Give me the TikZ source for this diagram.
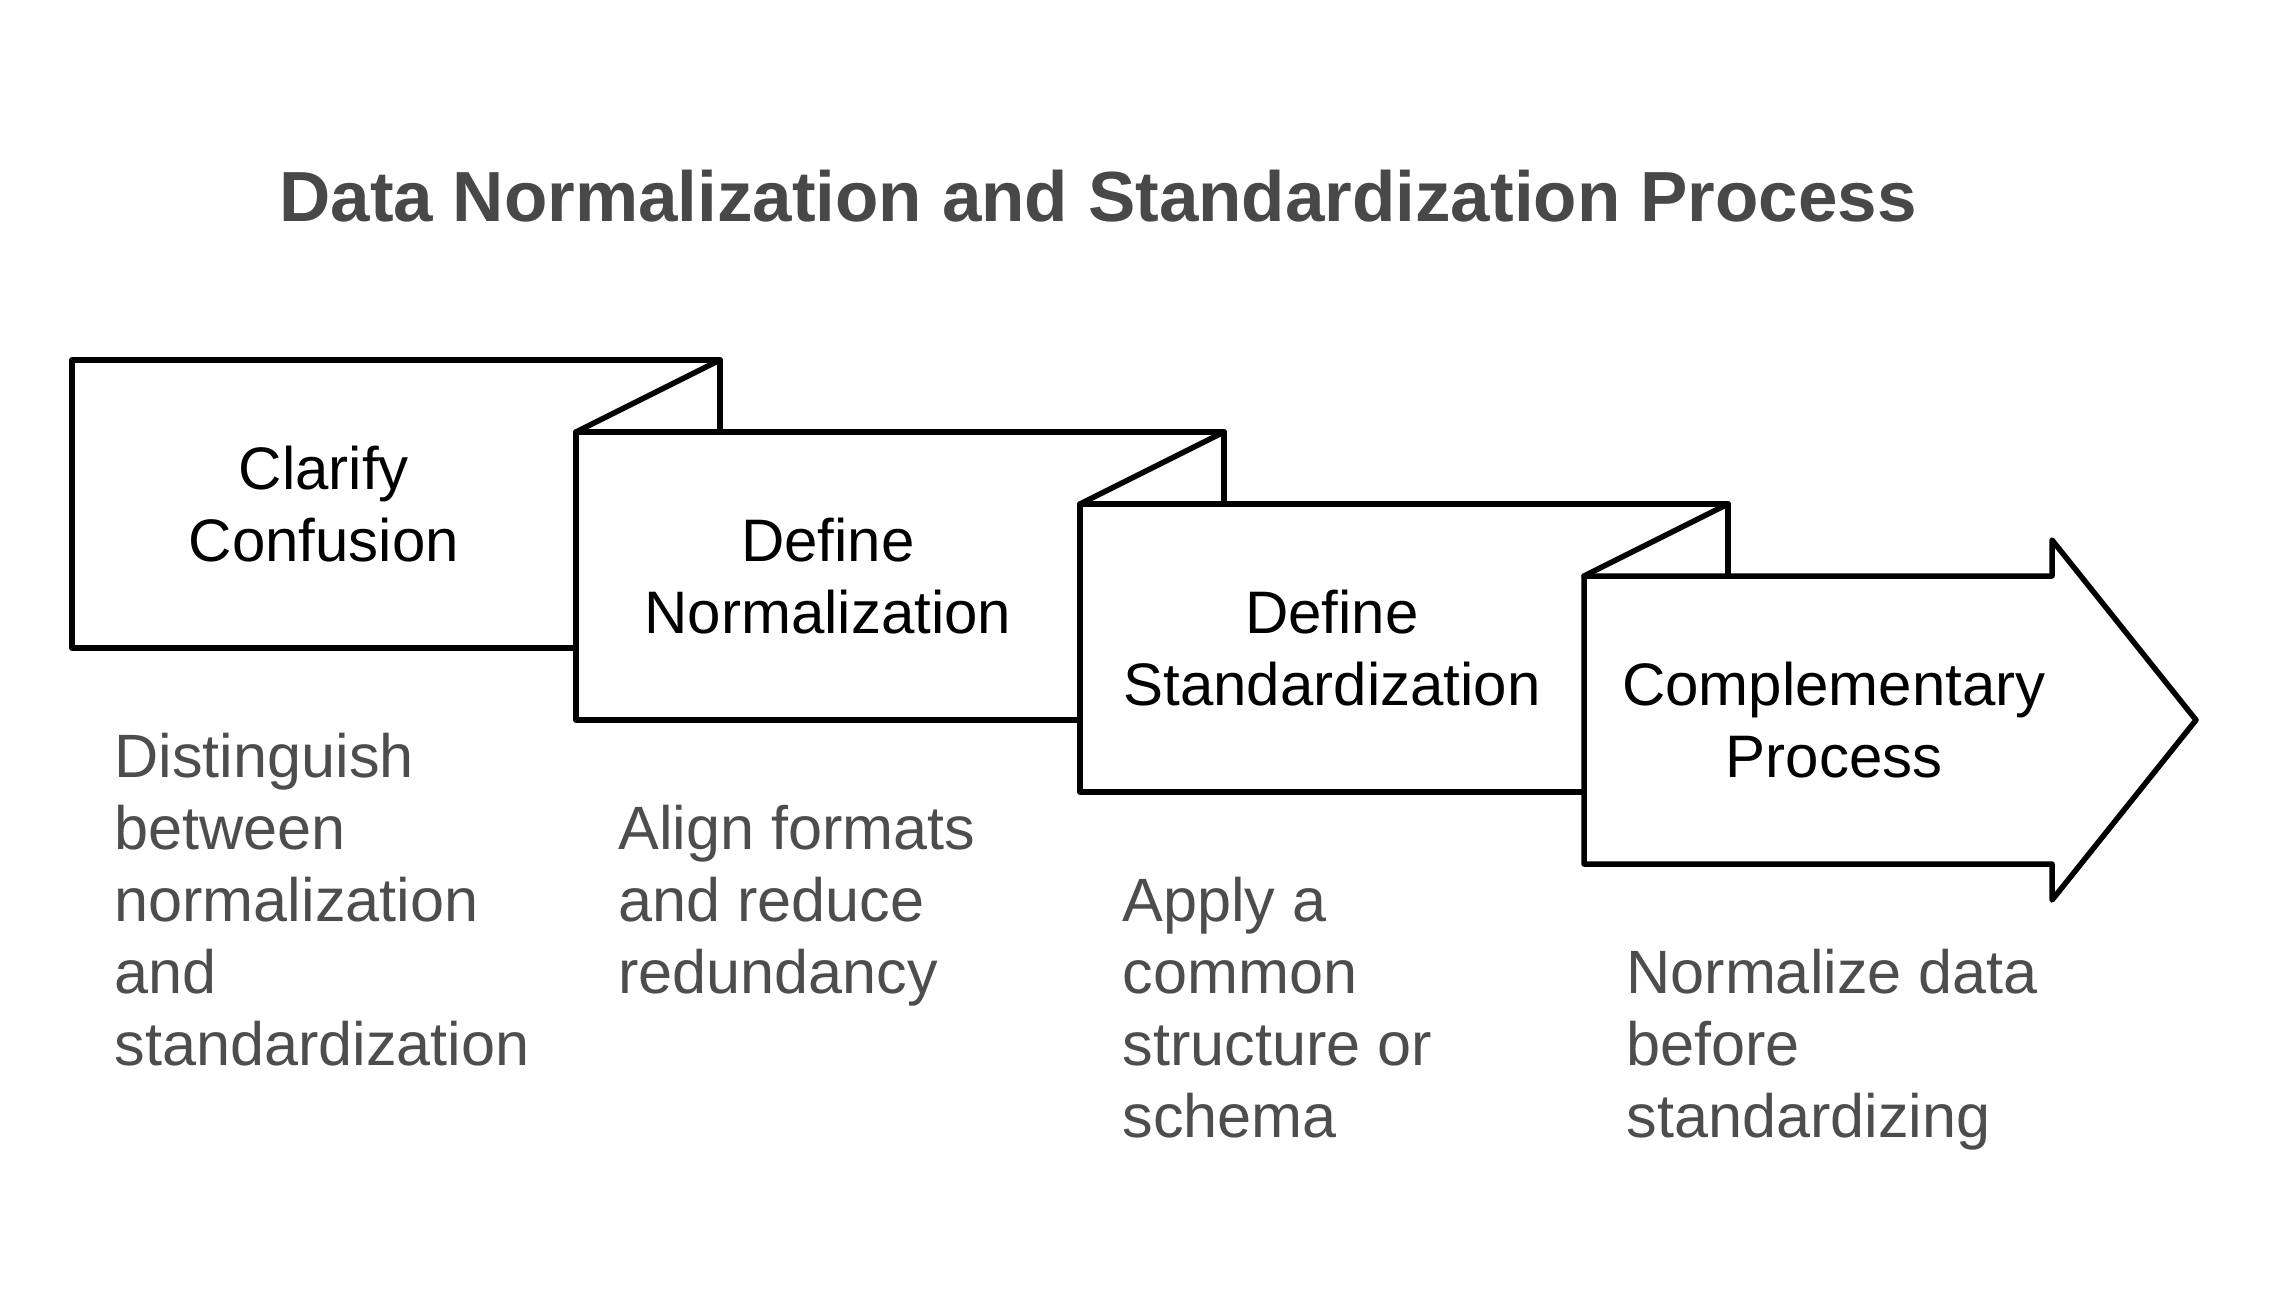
\documentclass[tikz,border=0pt]{standalone}
\usepackage{fontspec}
\setmainfont{Liberation Sans}
\usetikzlibrary{calc}
\definecolor{titlegray}{HTML}{484848}
\definecolor{descgray}{HTML}{4D4D4D}
\newcommand\lnstrut{\rule[-0.18em]{0pt}{1.08em}}
\begin{document}
\begin{tikzpicture}[x=0.5pt,y=-0.5pt,line join=round,
  stepbox/.style={draw, line width=2.75pt, fill=white, rectangle,
    minimum width=324pt, minimum height=144pt, inner sep=0pt, outer sep=0pt},
  boxtext/.style={align=center, font=\fontsize{30}{36}\selectfont, inner sep=0pt, text=black},
  desc/.style={align=left, anchor=north west, font=\fontsize{30.6}{36}\selectfont, inner sep=0pt, text=descgray},
  fold/.style={line width=2.75pt, line cap=round},
  titletext/.style={font=\fontsize{35.5}{42}\selectfont\bfseries, text=titlegray, inner sep=0pt, anchor=base}]
\useasboundingbox (0,0) rectangle (2269,1296);
\fill[white] (0,0) rectangle (2269,1296);

\node[titletext] (title) at (1098,221) {Data Normalization and Standardization Process};

% boxes
\node[stepbox] (b1) at (396,504) {};
\node[stepbox] (b2) at (900,576) {};
\draw[fold] (b1.north east) -- (b2.north west);
\node[stepbox] (b3) at (1404,648) {};
\draw[fold] (b2.north east) -- (b3.north west);
\coordinate (a1) at (1584,576);
\coordinate (a2) at (2052,576);
\coordinate (a3) at (2052,540);
\coordinate (a4) at (2196,720);
\coordinate (a5) at (2052,900);
\coordinate (a6) at (2052,864);
\coordinate (a7) at (1584,864);
\draw[line width=2.75pt, fill=white] (a1) -- (a2) -- (a3) -- (a4) -- (a5) -- (a6) -- (a7) -- cycle;
\draw[fold] (b3.north east) -- (a1);

% box texts
\node[boxtext] (t1) at (324,504) {\lnstrut Clarify\\\lnstrut Confusion};
\node[boxtext] (t2) at (828,576) {\lnstrut Define\\\lnstrut Normalization};
\node[boxtext] (t3) at (1332,648) {\lnstrut Define\\\lnstrut Standardization};
\node[boxtext] (t4) at (1834,720) {\lnstrut Complementary\\\lnstrut Process};

% descriptions
\node[desc] (d1) at (114,722) {\lnstrut Distinguish\\\lnstrut between\\\lnstrut normalization\\\lnstrut and\\\lnstrut standardization};
\node[desc] (d2) at (618,794) {\lnstrut Align formats\\\lnstrut and reduce\\\lnstrut redundancy};
\node[desc] (d3) at (1122,866) {\lnstrut Apply a\\\lnstrut common\\\lnstrut structure or\\\lnstrut schema};
\node[desc] (d4) at (1626,938) {\lnstrut Normalize data\\\lnstrut before\\\lnstrut standardizing};
\end{tikzpicture}
\end{document}
